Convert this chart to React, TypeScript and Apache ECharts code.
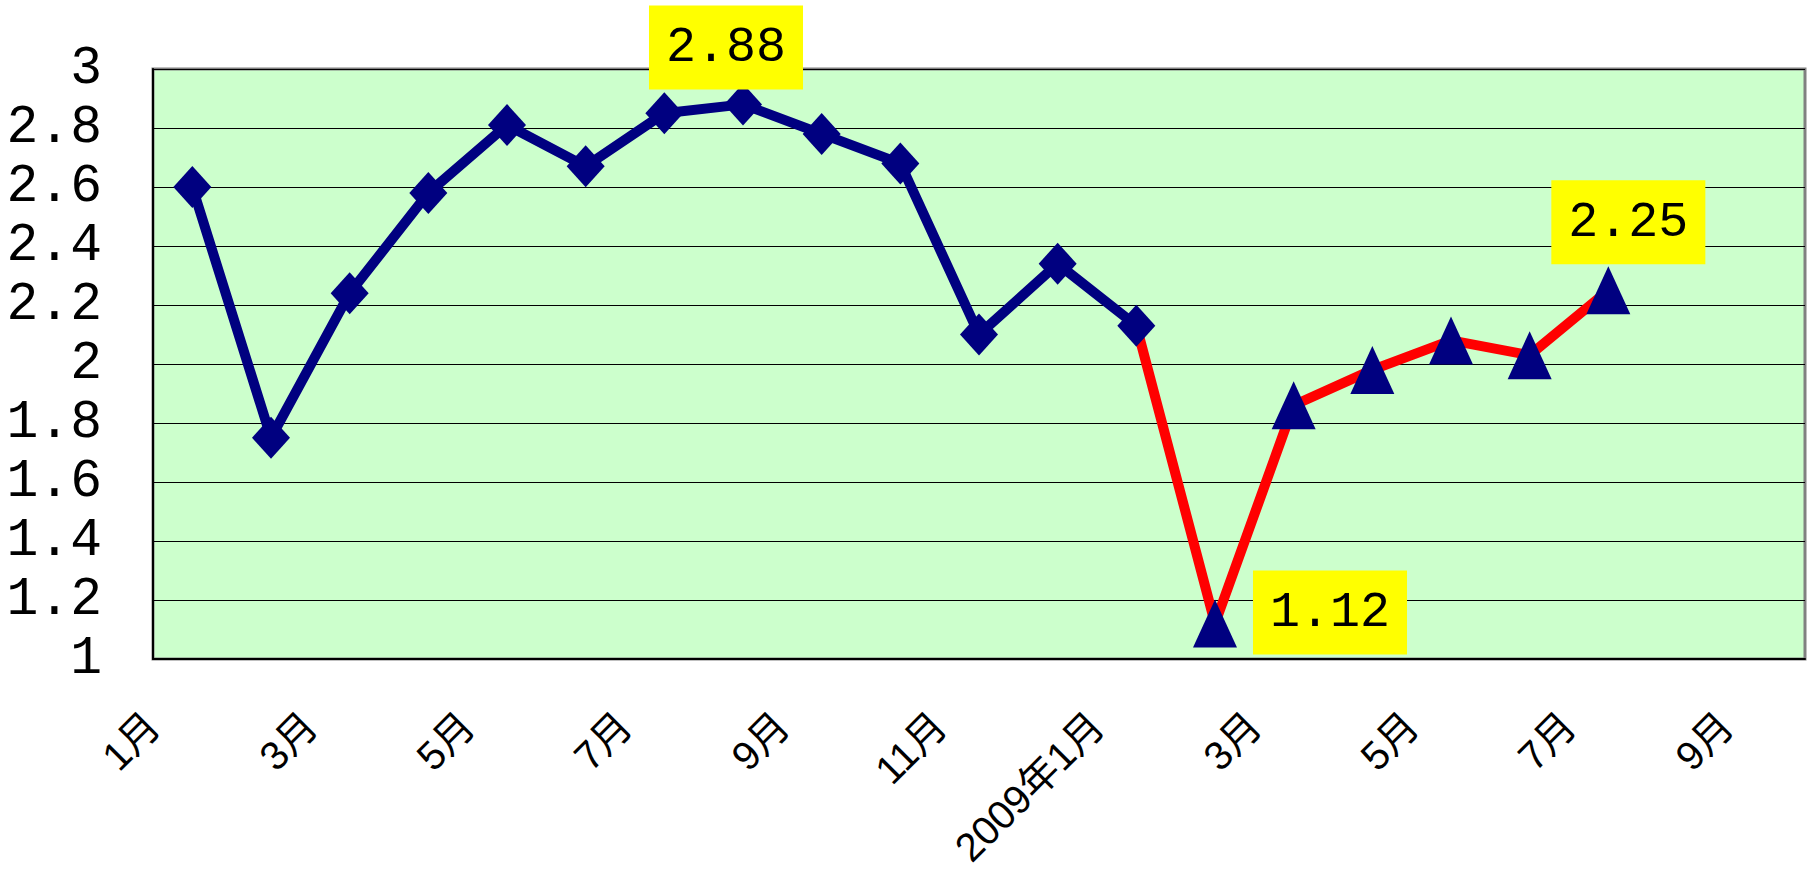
import React, { useEffect, useRef } from "react";
import * as echarts from "echarts";

const categories = [
  "1月", "2月", "3月", "4月", "5月", "6月", "7月", "8月", "9月", "10月", "11月", "12月",
  "2009年1月", "2月", "3月", "4月", "5月", "6月", "7月", "8月", "9月",
];
// 2008/1 – 2009/1 (diamonds, navy line)
const blueValues = [2.6, 1.75, 2.24, 2.58, 2.81, 2.67, 2.85, 2.88, 2.78, 2.68, 2.1, 2.34, 2.13];
// 2009/2 – 2009/7 (triangles, red line)
const redValues = [1.12, 1.86, 1.98, 2.08, 2.03, 2.25];
// tick labels shown at every other category boundary
const tickLabels = ["1月", "3月", "5月", "7月", "9月", "11月", "2009年1月", "3月", "5月", "7月", "9月"];

const NAVY = "#000080";
const MONO = "'Liberation Mono', monospace";

const boxLabel = (offset: number[]) => ({
  show: true,
  position: "inside",
  offset,
  formatter: (p: any) => String(p.value.toFixed ? p.value.toFixed(2) : p.value),
  backgroundColor: "#FFFF00",
  padding: [17, 17, 17, 17],
  color: "#000",
  fontFamily: MONO,
  fontSize: 50,
  lineHeight: 50,
});

export default function App() {
  const ref = useRef<HTMLDivElement>(null);
  useEffect(() => {
    if (!ref.current) return;
    const chart = echarts.init(ref.current, null, { renderer: "svg" });

    const blueData = blueValues.map((v, i) =>
      i === 7 ? { value: v, label: boxLabel([-17, -57]) } : v
    );
    const redData = categories.map((_, i) => {
      if (i < blueValues.length - 1) return null;
      if (i === blueValues.length - 1) return { value: blueValues[i], symbol: "none" };
      const v = redValues[i - blueValues.length];
      if (v === undefined) return null;
      if (i === 13) return { value: v, label: boxLabel([115, -11]) };
      if (i === 18) return { value: v, label: boxLabel([20, -68]) };
      return v;
    });

    const boundaryLabels: string[] = [];
    for (let i = 0; i <= categories.length; i++) {
      boundaryLabels.push(i % 2 === 0 ? tickLabels[i / 2] ?? "" : "");
    }

    chart.setOption({
      animation: false,
      backgroundColor: "#fff",
      grid: {
        left: 153,
        top: 69,
        right: 15,
        bottom: 215,
        show: true,
        backgroundColor: "#CCFFCC",
        borderColor: "#808080",
        borderWidth: 3,
      },
      xAxis: [
        {
          type: "category",
          data: categories,
          boundaryGap: true,
          axisLine: { lineStyle: { color: "#000", width: 2 } },
          axisTick: { inside: true, length: 12, lineStyle: { color: "#000", width: 1 } },
          axisLabel: { show: false },
          splitLine: { show: false },
        },
        {
          type: "category",
          data: boundaryLabels,
          boundaryGap: false,
          position: "bottom",
          axisLine: { show: false },
          axisTick: { show: false },
          splitLine: { show: false },
          axisLabel: {
            interval: 0,
            rotate: 45,
            margin: 60,
            fontSize: 40,
            color: "#000",
            fontFamily: "'Liberation Sans', 'Noto Sans CJK SC', sans-serif",
          },
        },
      ],
      yAxis: {
        type: "value",
        min: 1,
        max: 3,
        interval: 0.2,
        axisLine: { show: true, lineStyle: { color: "#000", width: 2 } },
        axisTick: { show: true, inside: true, length: 20, lineStyle: { color: "#000", width: 1 } },
        splitLine: { show: true, lineStyle: { color: "#000", width: 1 } },
        axisLabel: {
          margin: 51,
          fontSize: 53,
          color: "#000",
          fontFamily: MONO,
        },
      },
      series: [
        {
          type: "line",
          data: redData,
          xAxisIndex: 0,
          connectNulls: false,
          lineStyle: { color: "#FF0000", width: 10 },
          symbol: "triangle",
          symbolSize: [44, 48],
          itemStyle: { color: NAVY },
          z: 2,
        },
        {
          type: "line",
          data: blueData,
          xAxisIndex: 0,
          lineStyle: { color: NAVY, width: 10 },
          symbol: "diamond",
          symbolSize: [38, 42],
          itemStyle: { color: NAVY },
          z: 3,
        },
      ],
    });
    return () => chart.dispose();
  }, []);

  return (
    <div
      ref={ref}
      style={{ position: "fixed", left: 0, top: 0, width: 1820, height: 874 }}
    />
  );
}
